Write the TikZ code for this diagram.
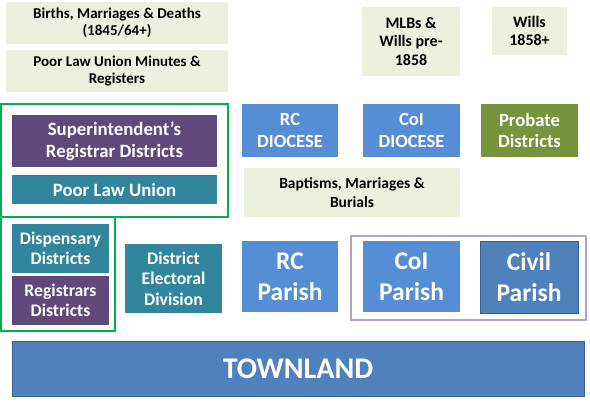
\documentclass[tikz,border=0pt]{standalone}
\usepackage{fontspec}
\setmainfont{Carlito}
\definecolor{lightbg}{HTML}{EBF1DE}
\definecolor{plum}{HTML}{5F497A}
\definecolor{tealc}{HTML}{31859C}
\definecolor{blued}{HTML}{558ED5}
\definecolor{bluep}{HTML}{4F81BD}
\definecolor{blueborder}{HTML}{385D8A}
\definecolor{olive}{HTML}{77933C}
\definecolor{greenframe}{HTML}{00B050}
\definecolor{lilac}{HTML}{B3A2C7}
\tikzset{
  box/.style={rectangle, inner sep=2pt, align=center, font=\bfseries},
  light/.style={box, fill=lightbg, text=black, font=\bfseries\fontsize{15}{17.7}\selectfont},
  plumbox/.style={box, fill=plum, text=white, font=\bfseries\fontsize{18.8}{22}\selectfont},
  tealbox/.style={box, fill=tealc, text=white, font=\bfseries\fontsize{17.7}{20.5}\selectfont},
  diobox/.style={box, fill=blued, text=white, font=\bfseries\fontsize{18.6}{21.7}\selectfont},
  parbox/.style={box, fill=blued, text=white, font=\bfseries\fontsize{25.5}{31.5}\selectfont},
  frame/.style={rectangle, draw, line width=1.2pt, inner sep=0pt},
}
\begin{document}
\begin{tikzpicture}[x=1pt,y=-1pt]
\useasboundingbox (0,0) rectangle (590,405);
% frames
\node[frame, draw=greenframe, minimum width=227pt, minimum height=113pt] (g1) at (114.5,160.5) {};
\node[frame, draw=greenframe, minimum width=114pt, minimum height=114pt] (g2) at (58,274) {};
\node[frame, draw=lilac, minimum width=235pt, minimum height=84pt] (pf) at (468.5,278) {};
% top light boxes
\node[light, minimum width=222pt, minimum height=42pt] (births) at (117,23) {Births, Marriages \& Deaths\\(1845/64+)};
\node[light, minimum width=222pt, minimum height=42pt] (plum) at (117,71) {Poor Law Union Minutes \&\\Registers};
\node[light, minimum width=98pt, minimum height=69pt, font=\bfseries\fontsize{16}{18.3}\selectfont] (mlbs) at (411,41.5) {MLBs \&\\Wills pre-\\1858};
\node[light, minimum width=75pt, minimum height=48pt, font=\bfseries\fontsize{16}{18.3}\selectfont] (wills) at (529.5,31) {Wills\\1858+};
% green frame 1 content
\node[plumbox, minimum width=205pt, minimum height=52pt] (supt) at (114.5,141) {Superintendent’s\\Registrar Districts};
\node[tealbox, minimum width=205pt, minimum height=29pt, font=\bfseries\fontsize{18.8}{22}\selectfont] (plu) at (114.5,189.5) {Poor Law Union};
% dioceses
\node[diobox, minimum width=96pt, minimum height=53pt] (rcdio) at (290,130.5) {RC\\DIOCESE};
\node[diobox, minimum width=97pt, minimum height=53pt] (coidio) at (411.5,130.5) {CoI\\DIOCESE};
\node[diobox, fill=olive, minimum width=97pt, minimum height=53pt] (probate) at (529.5,130.5) {Probate\\Districts};
\node[light, minimum width=216pt, minimum height=49pt, font=\bfseries\fontsize{15.5}{18.3}\selectfont] (bmb) at (352,192.5) {Baptisms, Marriages \&\\Burials};
% green frame 2 content
\node[tealbox, minimum width=97pt, minimum height=49pt] (disp) at (60.5,248.5) {Dispensary\\Districts};
\node[plumbox, minimum width=97pt, minimum height=49pt, font=\bfseries\fontsize{17.7}{20.5}\selectfont] (regd) at (60.5,300.5) {Registrars\\Districts};
\node[tealbox, minimum width=97pt, minimum height=69pt] (ded) at (173.5,278.5) {District\\Electoral\\Division};
% parishes
\node[parbox, minimum width=96pt, minimum height=71pt] (rcpar) at (290,276.5) {RC\\Parish};
\node[parbox, minimum width=97pt, minimum height=71pt] (coipar) at (411.5,276.5) {CoI\\Parish};
\node[parbox, fill=bluep, draw=blueborder, line width=1pt, minimum width=98pt, minimum height=72pt] (civil) at (529,277) {Civil\\Parish};
% townland
\node[box, fill=bluep, draw=blueborder, line width=1pt, text=white, minimum width=572pt, minimum height=55pt, font=\bfseries\fontsize{30}{34}\selectfont] (town) at (298,368.5) {TOWNLAND};
\end{tikzpicture}
\end{document}
